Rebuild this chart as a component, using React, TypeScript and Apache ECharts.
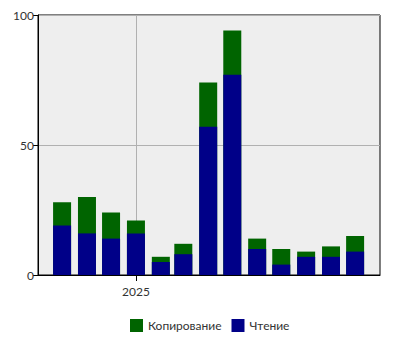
import React, { useEffect, useRef } from "react";
import * as echarts from "echarts";

const months = [
  "2024-10-01", "2024-11-01", "2024-12-01", "2025-01-01", "2025-02-01", "2025-03-01",
  "2025-04-01", "2025-05-01", "2025-06-01", "2025-07-01", "2025-08-01", "2025-09-01", "2025-10-01",
];
const readingValues = [19, 16, 14, 16, 5, 8, 57, 77, 10, 4, 7, 7, 9];
const copyingValues = [9, 14, 10, 5, 2, 4, 17, 17, 4, 6, 2, 4, 6];
const seriesNames = ["Копирование", "Чтение"];
const xMin = "2024-09-01";
const xMax = "2025-11-01";
const yearTicks = ["2025-01-01"];

export default function App() {
  const ref = useRef<HTMLDivElement>(null);
  useEffect(() => {
    document.body.style.margin = "0";
    const chart = echarts.init(ref.current!, null, { renderer: "svg" });
    const ts = (s: string) => new Date(s + "T00:00:00").getTime();
    const font = "Lato";
    chart.setOption({
      animation: false,
      textStyle: { fontFamily: font },
      grid: {
        left: 38, right: 20, top: 15, bottom: 75,
        show: true, backgroundColor: "#eeeeee", borderColor: "#000", borderWidth: 1,
      },
      legend: {
        top: 319,
        left: 130,
        padding: 0,
        data: seriesNames,
        icon: "rect",
        itemWidth: 13,
        itemHeight: 13,
        itemGap: 10,
        textStyle: { fontFamily: font, fontSize: 12, color: "#333" },
      },
      xAxis: {
        type: "value",
        min: ts(xMin),
        max: ts(xMax),
        axisLine: { show: true, onZero: false, lineStyle: { color: "#000" } },
        axisTick: { show: true, length: 6, lineStyle: { color: "#000" }, customValues: yearTicks.map(ts) },
        axisLabel: {
          customValues: yearTicks.map(ts),
          formatter: (v: number) => String(new Date(v).getFullYear()),
          color: "#333", fontSize: 12, fontFamily: font, margin: 10,
        },
        splitLine: { show: true, lineStyle: { color: "#b0b0b0" } },
      },
      yAxis: {
        type: "value",
        min: 0, max: 100, interval: 50,
        axisLine: { show: true, lineStyle: { color: "#000" } },
        axisTick: { show: true, length: 5, lineStyle: { color: "#000" } },
        axisLabel: { color: "#333", fontSize: 12, fontFamily: font, margin: 4 },
        splitLine: { show: true, lineStyle: { color: "#b0b0b0" } },
      },
      series: [
        {
          // drawn as the full stack height; the reading bar covers its lower part
          name: seriesNames[0],
          type: "bar",
          barWidth: 18,
          barGap: "-100%",
          itemStyle: { color: "#006400" },
          data: months.map((m, i) => [ts(m), readingValues[i] + copyingValues[i]]),
        },
        {
          name: seriesNames[1],
          type: "bar",
          barWidth: 18,
          barGap: "-100%",
          itemStyle: { color: "#000088" },
          data: months.map((m, i) => [ts(m), readingValues[i]]),
        },
      ],
    });
    return () => chart.dispose();
  }, []);
  return <div ref={ref} style={{ width: 400, height: 350 }} />;
}
